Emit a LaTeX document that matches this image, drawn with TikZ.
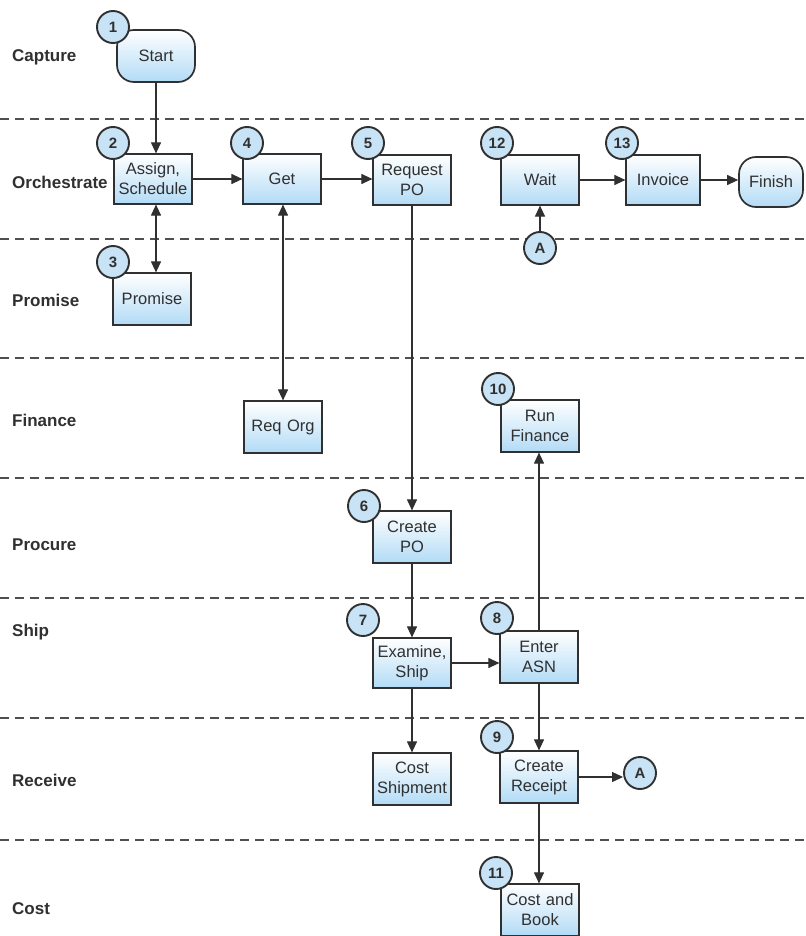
\documentclass[tikz,border=0pt]{standalone}
\usepackage{fontspec}
\setmainfont{Liberation Sans}
\usetikzlibrary{arrows.meta}
\definecolor{boxblue}{RGB}{178,219,246}
\definecolor{numblue}{RGB}{200,227,245}
\definecolor{inkgray}{RGB}{48,48,48}

\begin{document}
\begin{tikzpicture}[x=1pt,y=-1pt,
  lane/.style={anchor=west,inner sep=0pt,font=\fontsize{17}{20}\selectfont\bfseries,text=inkgray},
  swim/.style={draw=inkgray!85,line width=1.2pt,dash pattern=on 9pt off 6pt},
  task/.style={draw=inkgray,line width=1.2pt,top color=white,bottom color=boxblue,
    minimum height=50pt,inner sep=1pt,align=center,text width=76pt,
    font=\fontsize{16.5}{20}\selectfont,text=inkgray},
  term/.style={task,rounded corners=17pt,line width=1.7pt},
  num/.style={circle,draw=inkgray,line width=1.9pt,fill=numblue,minimum size=32pt,
    inner sep=0pt,font=\fontsize{15}{15}\selectfont\bfseries,text=inkgray},
  conn/.style={draw=inkgray,line width=1.1pt,-{Triangle[length=11pt,width=10pt]}},
  twoway/.style={conn,{Triangle[length=11pt,width=10pt]}-{Triangle[length=11pt,width=10pt]}}]
\useasboundingbox (0,0) rectangle (805,936);
\fill[white] (0,0) rectangle (805,936);

\foreach \y in {119,239,358,478,598,718,840}
  \draw[swim] (0,\y) -- (805,\y);

\node[lane] (capture) at (12,57) {Capture};
\node[lane] (orch) at (12,182) {Orchestrate};
\node[lane] (prom) at (12,300) {Promise};
\node[lane] (fin) at (12,420) {Finance};
\node[lane] (proc) at (12,545) {Procure};
\node[lane] (ship) at (12,632) {Ship};
\node[lane] (recv) at (12,780) {Receive};
\node[lane] (cost) at (12,909) {Cost};

\node[term,minimum height=52pt] (start) at (156,56) {Start};
\node[task] (assign) at (153,179) {Assign,\\Schedule};
\node[task] (get) at (282,179) {Get};
\node[task] (reqpo) at (412,180) {Request\\PO};
\node[task] (wait) at (540,180) {Wait};
\node[task,text width=72pt] (invoice) at (663,180) {Invoice};
\node[term,text width=62pt] (finish) at (771,182) {Finish};
\node[task,minimum height=52pt] (promise) at (152,299) {Promise};
\node[task,minimum height=52pt] (reqorg) at (283,427) {Req Org};
\node[task,minimum height=52pt] (runfin) at (540,426) {Run\\Finance};
\node[task,minimum height=52pt] (createpo) at (412,537) {Create\\PO};
\node[task] (examine) at (412,663) {Examine,\\Ship};
\node[task,minimum height=52pt] (enterasn) at (539,657) {Enter\\ASN};
\node[task,minimum height=52pt] (costship) at (412,779) {Cost\\Shipment};
\node[task,minimum height=52pt] (createrec) at (539,777) {Create\\Receipt};
\node[task,minimum height=52pt] (costbook) at (540,910) {Cost and\\Book};

\node[num] (aup) at (540,248) {A};
\node[num] (aout) at (640,773) {A};

\draw[conn] (start.south) -- (start.south |- assign.north);
\draw[twoway] (assign.south -| start.south) -- (promise.north -| start.south);
\draw[conn] (assign) -- (get);
\draw[conn] (get) -- (get -| reqpo.west);
\draw[twoway] (get.south -| reqorg.north) -- (reqorg.north);
\draw[conn] (reqpo) -- (createpo);
\draw[conn] (createpo) -- (examine);
\draw[conn] (examine.east) -- (examine.east -| enterasn.west);
\draw[conn] (examine) -- (costship);
\draw[conn] (enterasn) -- (createrec);
\draw[conn] (enterasn.north) -- (enterasn.north |- runfin.south);
\draw[conn] (createrec) -- (createrec -| aout.west);
\draw[conn] (createrec.south) -- (createrec.south |- costbook.north);
\draw[conn] (aup) -- (wait);
\draw[conn] (wait) -- (invoice);
\draw[conn] (invoice) -- (invoice -| finish.west);

\node[num] (n1) at (113,27) {1};
\node[num] (n2) at (113,143) {2};
\node[num] (n3) at (113,262) {3};
\node[num] (n4) at (247,143) {4};
\node[num] (n5) at (368,143) {5};
\node[num] (n6) at (364,506) {6};
\node[num] (n7) at (363,620) {7};
\node[num] (n8) at (497,618) {8};
\node[num] (n9) at (497,737) {9};
\node[num] (n10) at (498,389) {10};
\node[num] (n11) at (496,873) {11};
\node[num] (n12) at (497,143) {12};
\node[num] (n13) at (622,143) {13};
\end{tikzpicture}
\end{document}
